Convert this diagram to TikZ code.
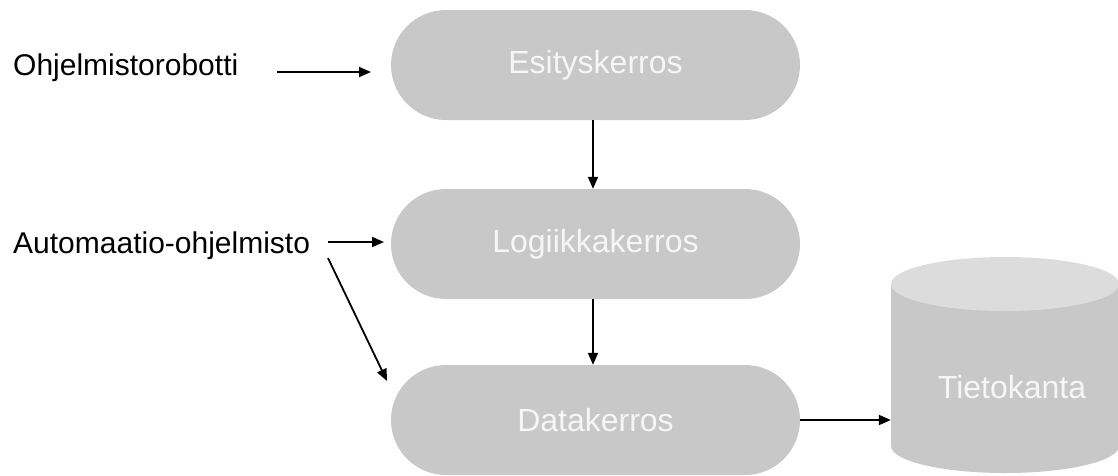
\documentclass[tikz,border=0pt]{standalone}
\usepackage{fontspec}
\setmainfont{Liberation Sans}
\usetikzlibrary{arrows.meta}
\definecolor{boxgray}{HTML}{C8C8C8}
\definecolor{topgray}{HTML}{DCDCDC}
\definecolor{boxtext}{HTML}{F6F6F6}
\tikzset{
  layer/.style={fill=boxgray, minimum width=409pt, minimum height=110pt,
    rounded corners=55pt, inner sep=0pt, text=boxtext,
    font=\fontsize{32}{38}\selectfont},
  lbl/.style={inner sep=0pt, anchor=base west, font=\fontsize{30}{36}\selectfont},
  arr/.style={line width=1.8pt, -{Triangle[length=12pt,width=10pt]}}
}
\begin{document}
\begin{tikzpicture}[x=1pt,y=-1pt]
\useasboundingbox (0,0) rectangle (1118,475);
% layers
\node[layer] (es) at (595.5,65) {Esityskerros};
\node[layer] (lk) at (595.5,244) {Logiikkakerros};
\node[layer] (dk) at (595.5,420) {Datakerros};
% cylinder
\fill[boxgray] (891,284) -- (891,446) arc[start angle=180,end angle=360,x radius=114pt,y radius=27pt] -- (1119,284) -- cycle;
\fill[topgray] (1005,284) ellipse[x radius=114pt,y radius=27pt];
\node[inner sep=0pt, minimum width=228pt, minimum height=216pt] (db) at (1005,365) {};
\node[text=boxtext, font=\fontsize{32}{38}\selectfont] (dbt) at (1012,387) {Tietokanta};
% labels
\node[lbl] (ohj) at (13,75) {Ohjelmistorobotti};
\node[lbl] (aut) at (13,253) {Automaatio-ohjelmisto};
% free ends
\coordinate (o1) at (277,72);
\coordinate (o2) at (371,72);
\coordinate (a1) at (328,242);
\coordinate (a2) at (384,242);
\coordinate (d1) at (328,258);
\coordinate (d2) at (387,381);
% connectors
\draw[arr] (o1) -- (o2);
\draw[arr] (a1) -- (a2);
\draw[arr] (d1) -- (d2);
\draw[arr] (es.south -| 593,0) -- (lk.north -| 593,0);
\draw[arr] (lk.south -| 593,0) -- (dk.north -| 593,0);
\draw[arr] (dk.east) -- (dk.east -| db.west);
\end{tikzpicture}
\end{document}
